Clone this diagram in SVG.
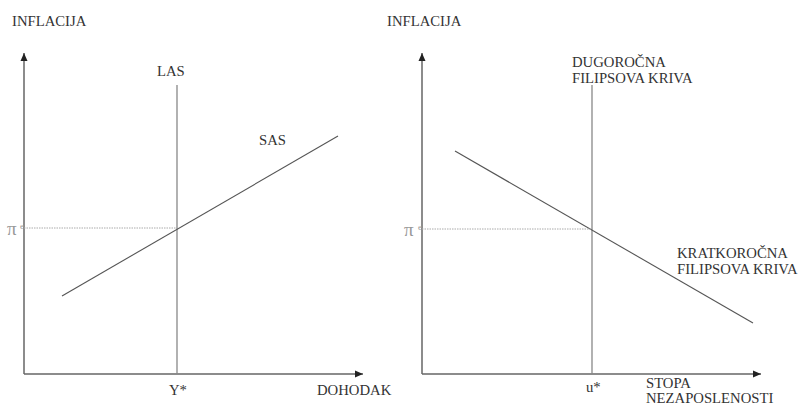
<svg xmlns="http://www.w3.org/2000/svg" width="803" height="405" viewBox="0 0 803 405">
<style>
.ax{stroke:#666;stroke-width:1.5;fill:none}
.ln{stroke:#888;stroke-width:1.3;fill:none}
.cv{stroke:#555;stroke-width:1.1;fill:none}
.dot{stroke:#aaa;stroke-width:1;stroke-dasharray:1.5 1;fill:none}
.pi{font-size:19px;fill:#999}
.sup{font-size:9px;fill:#999}
</style>
<defs>
<marker id="ah" markerWidth="9" markerHeight="9" refX="8" refY="4.5" orient="auto" markerUnits="userSpaceOnUse">
<path d="M0,1 L8,4.5 L0,8 Z" fill="#222"/>
</marker>
</defs>
<rect width="803" height="405" fill="#fff"/>
<g id="connectors">
<line class="ax" x1="24" y1="374" x2="24" y2="53" marker-end="url(#ah)"/>
<line class="ax" x1="24" y1="374" x2="363" y2="374" marker-end="url(#ah)"/>
<line class="ax" x1="422" y1="374" x2="422" y2="53" marker-end="url(#ah)"/>
<line class="ax" x1="422" y1="374" x2="761" y2="374" marker-end="url(#ah)"/>
</g>
<g font-family="'Liberation Serif', 'Times New Roman', Times, serif" font-size="14.7" fill="#333">
<g id="left-chart">
<text x="12" y="26">INFLACIJA</text>
<g id="las"><line class="ln" x1="177" y1="85" x2="177" y2="374"/><text x="157" y="76">LAS</text></g>
<g id="sas"><line class="cv" x1="62" y1="296" x2="338" y2="136"/><text x="259" y="145">SAS</text></g>
<g id="pi-left"><line class="dot" x1="24" y1="228" x2="177" y2="228"/><text class="pi" x="7" y="235">π</text><text class="sup" x="20" y="229">e</text></g>
<text x="169" y="395">Y*</text>
<text x="317" y="395">DOHODAK</text>
</g>
<g id="right-chart">
<text x="387" y="26">INFLACIJA</text>
<g id="lr-phillips"><line class="ln" x1="592" y1="85" x2="592" y2="374"/><text x="572" y="67">DUGOROČNA</text><text x="572" y="83">FILIPSOVA KRIVA</text></g>
<g id="sr-phillips"><line class="cv" x1="455" y1="151" x2="753" y2="323"/><text x="677" y="258">KRATKOROČNA</text><text x="677" y="274">FILIPSOVA KRIVA</text></g>
<g id="pi-right"><line class="dot" x1="422" y1="229" x2="592" y2="229"/><text class="pi" x="404" y="236">π</text><text class="sup" x="418" y="230">e</text></g>
<text x="586" y="392">u*</text>
<text x="646" y="388">STOPA</text>
<text x="646" y="403">NEZAPOSLENOSTI</text>
</g>
</g>
</svg>
